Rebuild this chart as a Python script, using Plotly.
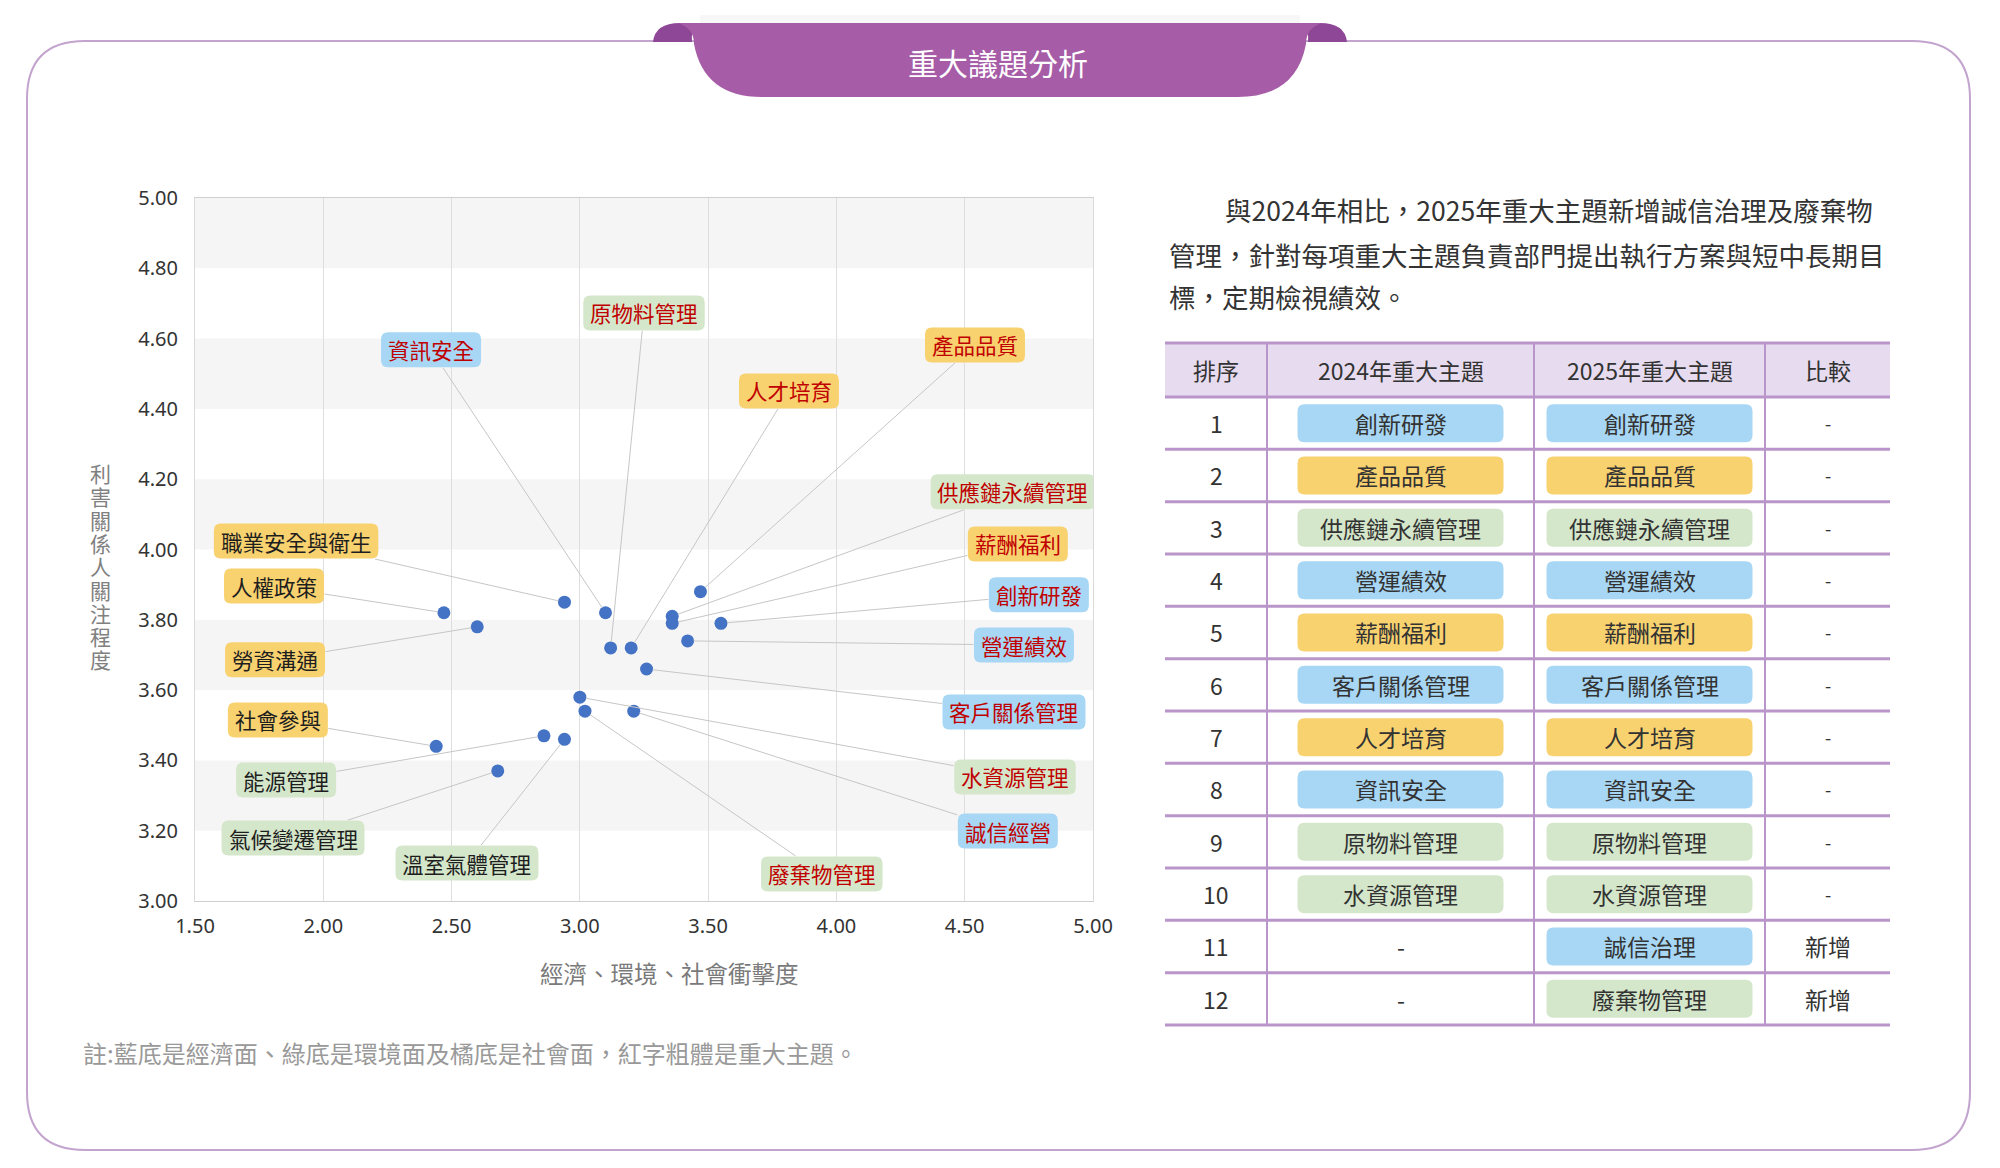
import plotly.graph_objects as go

W, H = 2000, 1168
OX, OY = 8, 8  # page offset of the plot div inside the browser body

# ---------------- data ----------------
topics = ["資訊安全", "原物料管理", "產品品質", "人才培育", "供應鏈永續管理", "薪酬福利",
          "創新研發", "營運績效", "客戶關係管理", "水資源管理", "誠信經營", "廢棄物管理",
          "職業安全與衛生", "人權政策", "勞資溝通", "社會參與", "能源管理", "氣候變遷管理",
          "溫室氣體管理"]
impact = [3.10, 3.12, 3.47, 3.20, 3.36, 3.36, 3.55, 3.42, 3.26, 3.00, 3.21, 3.02,
          2.94, 2.47, 2.60, 2.44, 2.86, 2.68, 2.94]
concern = [3.82, 3.72, 3.88, 3.72, 3.81, 3.79, 3.79, 3.74, 3.66, 3.58, 3.54, 3.54,
           3.85, 3.82, 3.78, 3.44, 3.47, 3.37, 3.46]
category = ["econ", "env", "soc", "soc", "env", "soc", "econ", "econ", "econ", "env", "econ", "env",
            "soc", "soc", "soc", "soc", "env", "env", "env"]
major = [True] * 12 + [False] * 7

# label placement (data coordinates of label centres)
label_x = [2.42, 3.25, 4.54, 3.815, 4.688, 4.707, 4.789, 4.731, 4.692, 4.696, 4.668, 3.943,
           1.894, 1.808, 1.812, 1.823, 1.855, 1.882, 2.56]
label_y = [4.568, 4.673, 4.582, 4.451, 4.164, 4.016, 3.871, 3.728, 3.538, 3.353, 3.199, 3.077,
           4.024, 3.896, 3.686, 3.515, 3.344, 3.179, 3.108]

x_ticks = [1.5, 2.0, 2.5, 3.0, 3.5, 4.0, 4.5, 5.0]
y_ticks = [3.0, 3.2, 3.4, 3.6, 3.8, 4.0, 4.2, 4.4, 4.6, 4.8, 5.0]

ranks = list(range(1, 13))
topics_2024 = ["創新研發", "產品品質", "供應鏈永續管理", "營運績效", "薪酬福利", "客戶關係管理",
               "人才培育", "資訊安全", "原物料管理", "水資源管理", "-", "-"]
topics_2025 = ["創新研發", "產品品質", "供應鏈永續管理", "營運績效", "薪酬福利", "客戶關係管理",
               "人才培育", "資訊安全", "原物料管理", "水資源管理", "誠信治理", "廢棄物管理"]
compare = ["-"] * 10 + ["新增", "新增"]
table_cat = {"創新研發": "econ", "營運績效": "econ", "客戶關係管理": "econ", "資訊安全": "econ",
             "誠信治理": "econ", "產品品質": "soc", "薪酬福利": "soc", "人才培育": "soc",
             "供應鏈永續管理": "env", "原物料管理": "env", "水資源管理": "env", "廢棄物管理": "env"}
headers = ["排序", "2024年重大主題", "2025年重大主題", "比較"]

title = "重大議題分析"
paragraph = ["與2024年相比，2025年重大主題新增誠信治理及廢棄物",
             "管理，針對每項重大主題負責部門提出執行方案與短中長期目",
             "標，定期檢視績效。"]
note = "註:藍底是經濟面、綠底是環境面及橘底是社會面，紅字粗體是重大主題。"
x_title = "經濟、環境、社會衝擊度"
y_title = "利害關係人關注程度"

# ---------------- styles ----------------
FILL = {"econ": "#A7D7F4", "env": "#D5E7CB", "soc": "#F9D270"}
FONT = "Noto Sans CJK TC, Noto Sans, sans-serif"
PURPLE_LINE = "#B995C9"


def fx(x):
    return (x - OX) / W


def fy(y):
    return 1 - (y - OY) / H


def P(x, y):
    return f"{fx(x):.5f},{fy(y):.5f}"


def rr_paper(x0, y0, x1, y1, r):
    return (f"M {P(x0 + r, y0)} L {P(x1 - r, y0)} Q {P(x1, y0)} {P(x1, y0 + r)} "
            f"L {P(x1, y1 - r)} Q {P(x1, y1)} {P(x1 - r, y1)} L {P(x0 + r, y1)} "
            f"Q {P(x0, y1)} {P(x0, y1 - r)} L {P(x0, y0 + r)} Q {P(x0, y0)} {P(x0 + r, y0)} Z")


def rr_pix(w, h, r):
    x0, x1, y0, y1 = -w / 2, w / 2, -h / 2, h / 2
    return (f"M {x0 + r},{y0} L {x1 - r},{y0} Q {x1},{y0} {x1},{y0 + r} "
            f"L {x1},{y1 - r} Q {x1},{y1} {x1 - r},{y1} L {x0 + r},{y1} "
            f"Q {x0},{y1} {x0},{y1 - r} L {x0},{y0 + r} Q {x0},{y0} {x0 + r},{y0} Z")


def txt(x, y, text, size, color, xanchor="center", family=FONT):
    return dict(xref="paper", yref="paper", x=fx(x), y=fy(y), text=text, showarrow=False,
                xanchor=xanchor, yanchor="middle",
                font=dict(family=family, size=size, color=color))


fig = go.Figure()

fig.add_trace(go.Scatter(
    x=impact, y=concern, mode="markers", text=topics, hoverinfo="text",
    marker=dict(color="#4472C4", size=13), showlegend=False, cliponaxis=False))

shapes = []
annotations = []

# background bands
band_pairs = [(y_ticks[i], y_ticks[i + 1]) for i in range(1, len(y_ticks) - 1, 2)]
for lo, hi in band_pairs:
    shapes.append(dict(type="rect", xref="x domain", yref="y", x0=0, x1=1, y0=lo, y1=hi,
                       fillcolor="#F5F5F5", line=dict(width=0), layer="below"))

# outer rounded frame
shapes.append(dict(type="path", xref="paper", yref="paper", path=rr_paper(27, 41, 1970, 1150, 58),
                   line=dict(color="#C3A4CE", width=2), fillcolor="rgba(0,0,0,0)", layer="below"))

# ribbon title
shapes.append(dict(type="rect", xref="paper", yref="paper", x0=fx(700), x1=fx(1300),
                   y0=fy(24), y1=fy(15), fillcolor="rgba(0,0,0,0.03)", line=dict(width=0)))
fold_l = f"M {P(653, 42)} Q {P(655, 23)} {P(680, 23)} L {P(700, 23)} Q {P(690, 30)} {P(692, 42)} Z"
fold_r = f"M {P(1347, 42)} Q {P(1345, 23)} {P(1320, 23)} L {P(1300, 23)} Q {P(1310, 30)} {P(1308, 42)} Z"
for fp in (fold_l, fold_r):
    shapes.append(dict(type="path", xref="paper", yref="paper", path=fp,
                       fillcolor="#8E4796", line=dict(width=0)))
body = (f"M {P(678, 23)} L {P(1322, 23)} Q {P(1306, 28)} {P(1306, 44)} "
        f"Q {P(1296, 97)} {P(1238, 97)} L {P(762, 97)} Q {P(704, 97)} {P(694, 44)} "
        f"Q {P(694, 28)} {P(678, 23)} Z")
shapes.append(dict(type="path", xref="paper", yref="paper", path=body,
                   fillcolor="#A65CA6", line=dict(width=0)))
annotations.append(txt(998, 62, title, 30, "white"))

# chart labels with leader lines
CH = 21.5
for i, t in enumerate(topics):
    w = len(t) * CH + 14
    h = 35
    shapes.append(dict(type="path", xref="x", yref="y", xsizemode="pixel", ysizemode="pixel",
                       xanchor=label_x[i], yanchor=label_y[i], path=rr_pix(w, h, 7),
                       fillcolor=FILL[category[i]], line=dict(width=0), layer="above"))
    annotations.append(dict(
        x=impact[i], y=concern[i], ax=label_x[i], ay=label_y[i], axref="x", ayref="y",
        xref="x", yref="y", text=t, showarrow=True, arrowhead=0, arrowwidth=1,
        arrowcolor="#C6C6C6", standoff=6, width=w, height=h, borderpad=0,
        font=dict(family=FONT, size=CH, color="#C00000" if major[i] else "#1E1E1E"),
        align="center", valign="middle"))

# axis titles
annotations.append(txt(669, 973, x_title, 23.5, "#7A7A7A"))
for k, ch in enumerate(y_title):
    annotations.append(txt(100, 473 + k * 23.3, ch, 21, "#808080"))
annotations.append(txt(81, 1052, note, 24, "#999999", xanchor="left"))

# paragraph
para_x = [1223, 1167, 1167]
para_y = [210, 254, 297]
for k, line in enumerate(paragraph):
    annotations.append(txt(para_x[k], para_y[k], line, 26.5, "#333333", xanchor="left"))

# table
TL, TR = 1165, 1890
col_edges = [1165, 1267, 1534, 1765, 1890]
t_top, h_bot, row_h = 343, 397, 52.33
shapes.append(dict(type="rect", xref="paper", yref="paper", x0=fx(TL), x1=fx(TR),
                   y0=fy(h_bot), y1=fy(t_top), fillcolor="#E7DCEF", line=dict(width=0),
                   layer="below"))
hlines = [t_top, h_bot] + [h_bot + row_h * (r + 1) for r in range(len(ranks))]
for yy in hlines:
    shapes.append(dict(type="line", xref="paper", yref="paper", x0=fx(TL), x1=fx(TR),
                       y0=fy(yy), y1=fy(yy), line=dict(color=PURPLE_LINE, width=3)))
for xx in col_edges[1:-1]:
    shapes.append(dict(type="line", xref="paper", yref="paper", x0=fx(xx), x1=fx(xx),
                       y0=fy(t_top), y1=fy(hlines[-1]),
                       line=dict(color=PURPLE_LINE, width=2)))
col_c = [(col_edges[j] + col_edges[j + 1]) / 2 for j in range(4)]
for j, hd in enumerate(headers):
    annotations.append(txt(col_c[j], 370, hd, 23, "#333333"))
pill_w, pill_h = 206, 38
for r in range(len(ranks)):
    cy = h_bot + row_h * (r + 0.5)
    annotations.append(txt(col_c[0], cy, str(ranks[r]), 23, "#333333"))
    for j, tp in ((1, topics_2024[r]), (2, topics_2025[r])):
        if tp in table_cat:
            cx = col_c[j]
            shapes.append(dict(type="path", xref="paper", yref="paper",
                               path=rr_paper(cx - pill_w / 2, cy - pill_h / 2,
                                             cx + pill_w / 2, cy + pill_h / 2, 7),
                               fillcolor=FILL[table_cat[tp]], line=dict(width=0)))
        annotations.append(txt(col_c[j], cy, tp, 23, "#333333"))
    annotations.append(txt(col_c[3], cy, compare[r], 23 if compare[r] != "-" else 18, "#333333"))

fig.update_layout(
    width=W, height=H, margin=dict(l=0, r=0, t=0, b=0, pad=0, autoexpand=False),
    paper_bgcolor="white", plot_bgcolor="rgba(0,0,0,0)",
    font=dict(family=FONT, color="#333333"),
    xaxis=dict(domain=[fx(195), fx(1093)], range=[1.5, 5.0], tickvals=x_ticks,
               tickformat=".2f", showgrid=True, gridcolor="#DEDEDE", gridwidth=1,
               zeroline=False, showline=True, linecolor="#CFCFCF", mirror=True,
               automargin=False,
               ticks="outside", ticklen=7, tickcolor="rgba(0,0,0,0)",
               tickfont=dict(family="Noto Sans, sans-serif", size=20, color="#333333")),
    yaxis=dict(domain=[fy(901), fy(198)], range=[3.0, 5.0], tickvals=y_ticks,
               tickformat=".2f", showgrid=False, zeroline=False, showline=True,
               linecolor="#DADADA", mirror=True, automargin=False,
               ticks="outside", ticklen=12, tickcolor="rgba(0,0,0,0)",
               tickfont=dict(family="Noto Sans, sans-serif", size=20, color="#333333")),
    shapes=shapes, annotations=annotations, hovermode="closest",
)

fig.write_html("out.html")
